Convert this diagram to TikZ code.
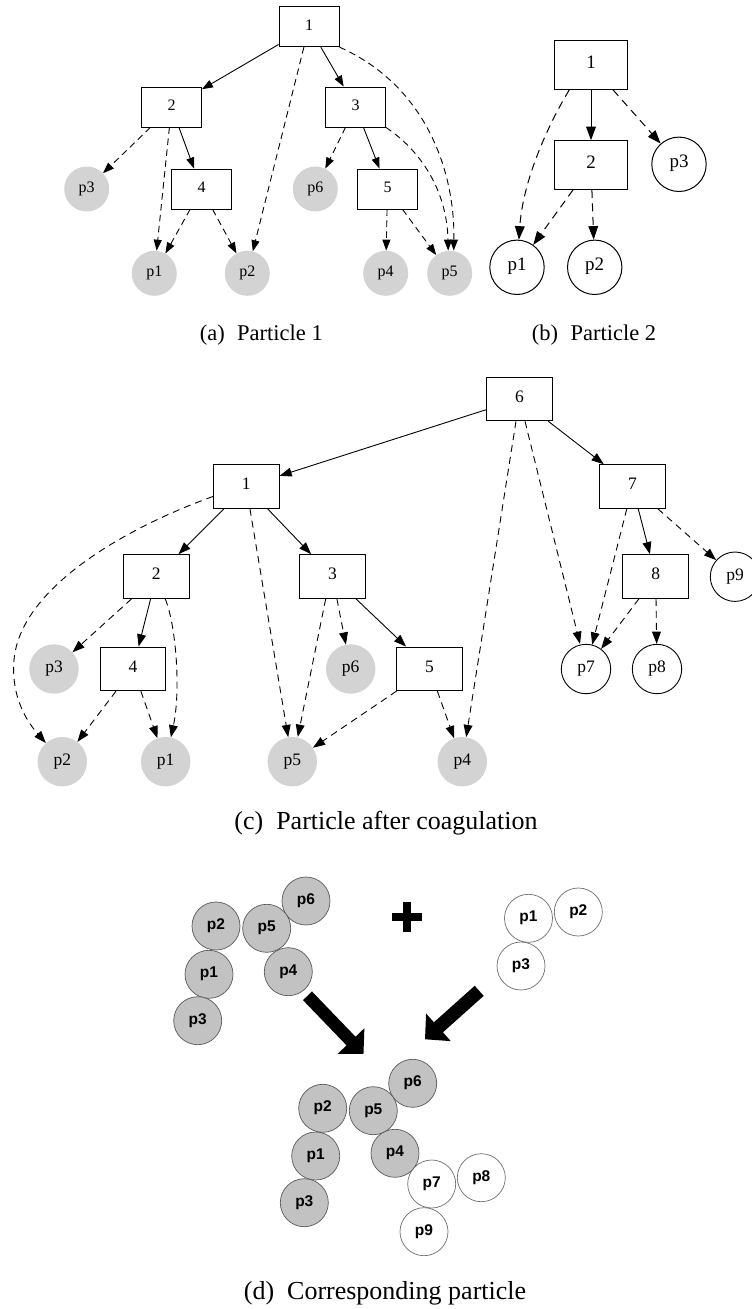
\documentclass[tikz,border=0pt]{standalone}
\usepackage{fontspec}
\setmainfont{Liberation Serif}
\newfontfamily\dsans{Liberation Sans}
\usetikzlibrary{arrows.meta,calc}
\definecolor{leafgrey}{HTML}{D3D3D3}
\definecolor{blobgrey}{HTML}{C2C2C2}
\definecolor{blobline}{HTML}{5A5A5A}
\definecolor{ringline}{HTML}{6E6E6E}
\newcommand\labA{\fontsize{16}{18}\selectfont}
\newcommand\labB{\fontsize{19}{22}\selectfont}
\newcommand\labC{\fontsize{17.5}{20}\selectfont}
\newcommand\labD{\dsans\bfseries\fontsize{15.5}{18}\selectfont}
\newcommand\capAB{\fontsize{22.5}{26}\selectfont}
\newcommand\capCD{\fontsize{26}{30}\selectfont}

\begin{document}
\begin{tikzpicture}[x=1pt,y=-1pt,
  every node/.style={inner sep=0pt},
  lbl/.style={text height=0.66em, text depth=0pt},
  % tree panels
  boxA/.style={lbl, draw, line width=0.9pt, minimum width=60pt, minimum height=40pt, font=\labA},
  leafA/.style={lbl, circle, fill=leafgrey, minimum size=45pt, font=\labA},
  boxB/.style={lbl, draw, line width=1pt, minimum width=72.7pt, minimum height=48.7pt, font=\labB},
  ringB/.style={lbl, circle, draw, line width=1pt, minimum size=54.4pt, font=\labB},
  boxC/.style={lbl, draw, line width=0.9pt, minimum width=65.7pt, minimum height=43.7pt, font=\labC},
  leafC/.style={lbl, circle, fill=leafgrey, minimum size=49.4pt, font=\labC},
  ringC/.style={lbl, circle, draw, line width=0.9pt, minimum size=49.4pt, font=\labC},
  linkA/.style={line width=0.9pt, -{Triangle[length=11pt,width=8pt]}},
  weakA/.style={linkA, dash pattern=on 6.5pt off 4.5pt},
  linkB/.style={line width=1pt, -{Triangle[length=13.5pt,width=9.8pt]}},
  weakB/.style={linkB, dash pattern=on 8pt off 5.5pt},
  linkC/.style={line width=0.9pt, -{Triangle[length=12.2pt,width=8.8pt]}},
  weakC/.style={linkC, dash pattern=on 7pt off 5pt},
  % sketch panel
  blob/.style={lbl, circle, draw=blobline, fill=blobgrey, line width=0.7pt, minimum size=48pt, font=\labD},
  ring/.style={lbl, circle, draw=ringline, line width=0.7pt, minimum size=48pt, font=\labD},
  bigarrow/.style={line width=12.5pt, -{Triangle[length=18pt,width=36pt]}},
  caption/.style={anchor=base}
]
\useasboundingbox (0,0) rectangle (752,1309);

% ---------------- (a) Particle 1 ----------------
\node[boxA] (a1) at (309,26.7) {1};
\node[boxA] (a2) at (171.5,107) {2};
\node[boxA] (a3) at (355.5,107) {3};
\node[boxA] (a4) at (201.5,189) {4};
\node[boxA] (a5) at (387.5,189) {5};
\node[leafA] (ap3) at (86.7,189) {p3};
\node[leafA] (ap6) at (315.3,189) {p6};
\node[leafA] (ap1) at (154.3,273.3) {p1};
\node[leafA] (ap2) at (247.3,273.3) {p2};
\node[leafA] (ap4) at (385.7,273.3) {p4};
\node[leafA] (ap5) at (449.7,273.3) {p5};

\draw[linkA] (a1) -- (a2);
\draw[linkA] (a1) -- (a3);
\draw[weakA] (a1) -- (ap2);
\draw[weakA] (a1.south east) .. controls (425,85) and (455,170) .. ([xshift=4pt]ap5.north);
\draw[weakA] (a2) -- (ap3);
\draw[weakA] (a2) -- (ap1);
\draw[linkA] (a2) -- (a4);
\draw[weakA] (a4) -- (ap1);
\draw[weakA] (a4) -- (ap2);
\draw[weakA] (a3) -- (ap6);
\draw[linkA] (a3) -- (a5);
\draw[weakA] (a3.south east) .. controls (420,150) and (447,190) .. ([xshift=-1.5pt]ap5.north);
\draw[weakA] (a5) -- (ap4);
\draw[weakA] (a5) -- (ap5);

\node[caption, font=\capAB] (capa) at (261.3,340.5) {(a)\hspace{0.55em}Particle 1};

% ---------------- (b) Particle 2 ----------------
\node[boxB] (b1) at (591,65) {1};
\node[boxB] (b2) at (591,165) {2};
\node[ringB] (bp3) at (679,164.3) {p3};
\node[ringB] (bp1) at (517,267.3) {p1};
\node[ringB] (bp2) at (594.7,267.3) {p2};

\draw[linkB] (b1) -- (b2);
\draw[weakB] (b1) -- (bp3);
\draw[weakB] ([xshift=-21.7pt]b1.south) .. controls (548,125) and (523,180) .. (bp1);
\draw[weakB] (b2) -- (bp1);
\draw[weakB] (b2) -- (bp2);

\node[caption, font=\capAB] (capb) at (594,340.5) {(b)\hspace{0.55em}Particle 2};

% ---------------- (c) Particle after coagulation ----------------
\node[boxC] (c6) at (519.5,399) {6};
\node[boxC] (c1) at (246.2,486.5) {1};
\node[boxC] (c7) at (632.5,486.5) {7};
\node[boxC] (c2) at (156.2,576.5) {2};
\node[boxC] (c3) at (332.5,576.5) {3};
\node[boxC] (c8) at (655.7,576.5) {8};
\node[boxC] (c4) at (133,668.8) {4};
\node[boxC] (c5) at (429.5,668.8) {5};
\node[leafC] (cp3) at (54,669) {p3};
\node[leafC] (cp6) at (350.7,669) {p6};
\node[leafC] (cp2) at (62.3,761.7) {p2};
\node[leafC] (cp1) at (165.7,761.7) {p1};
\node[leafC] (cp5) at (292.3,761.7) {p5};
\node[leafC] (cp4) at (462.3,761.7) {p4};
\node[ringC] (cp7) at (586,669) {p7};
\node[ringC] (cp8) at (657,669) {p8};
\node[ringC] (cp9) at (735,576.7) {p9};

\draw[linkC] (c6) -- (c1);
\draw[linkC] (c6) -- (c7);
\draw[weakC] (c6) -- (cp4);
\draw[weakC] (c6) -- ([xshift=-6pt]cp7.north);
\draw[linkC] (c1) -- (c2);
\draw[linkC] (c1) -- (c3);
\draw[weakC] (c1) -- (cp5);
\draw[weakC] ([yshift=-10pt]c1.west) .. controls (120,530) and (20,590) .. (14,660)
                 .. controls (10.6,700) and (30,725) .. (cp2);
\draw[weakC] (c2) -- (cp3);
\draw[linkC] (c2) -- (c4);
\draw[weakC] ([xshift=9pt]c2.south) .. controls (176,625) and (181,690) .. (cp1);
\draw[weakC] (c4) -- (cp2);
\draw[weakC] (c4) -- (cp1);
\draw[weakC] ([xshift=-6.8pt]c3.south) -- ([xshift=5.5pt]cp5.north);
\draw[weakC] (c3) -- (cp6);
\draw[linkC] (c3) -- (c5);
\draw[weakC] (c5) -- (cp5);
\draw[weakC] (c5) -- (cp4);
\draw[linkC] (c7) -- (c8);
\draw[weakC] (c7) -- (cp9);
\draw[weakC] (c7) -- (cp7);
\draw[weakC] (c8) -- (cp7);
\draw[weakC] (c8) -- (cp8);

\node[caption, font=\capCD] (capc) at (386,829) {(c)\hspace{0.5em}Particle after coagulation};

% ---------------- (d) Corresponding particle ----------------
% first aggregate
\node[blob] (d1p6) at (306,901) {p6};
\node[blob] (d1p2) at (216,926) {p2};
\node[blob] (d1p5) at (266.7,928.3) {p5};
\node[blob] (d1p1) at (209,974.3) {p1};
\node[blob] (d1p4) at (288.3,971.7) {p4};
\node[blob] (d1p3) at (197.7,1020.7) {p3};
% second aggregate
\node[ring] (d2p1) at (528.5,918.3) {p1};
\node[ring] (d2p2) at (578.3,912) {p2};
\node[ring] (d2p3) at (521,966) {p3};
% plus sign
\fill (391.7,912.55) rectangle (421.7,920.85);
\fill (402.55,901.7) rectangle (410.85,931.7);
% merging arrows
\coordinate (lfrom) at (307.5,995.8);
\coordinate (lto) at (363.5,1054);
\coordinate (rfrom) at (479.2,990.8);
\coordinate (rto) at (425,1039.3);
\draw[bigarrow] (lfrom) -- (lto);
\draw[bigarrow, line width=13.5pt] (rfrom) -- (rto);
% merged aggregate
\node[blob] (d3p6) at (412.7,1083.3) {p6};
\node[blob] (d3p2) at (322.7,1108.3) {p2};
\node[blob] (d3p5) at (373.3,1110.7) {p5};
\node[blob] (d3p1) at (315.7,1156) {p1};
\node[blob] (d3p4) at (395,1153.3) {p4};
\node[blob] (d3p3) at (304.3,1202.7) {p3};
\node[ring] (d3p7) at (431.7,1184) {p7};
\node[ring] (d3p8) at (481.3,1177.7) {p8};
\node[ring] (d3p9) at (424,1231.7) {p9};

\node[caption, font=\capCD] (capd) at (385,1299) {(d)\hspace{0.5em}Corresponding particle};
\end{tikzpicture}
\end{document}
